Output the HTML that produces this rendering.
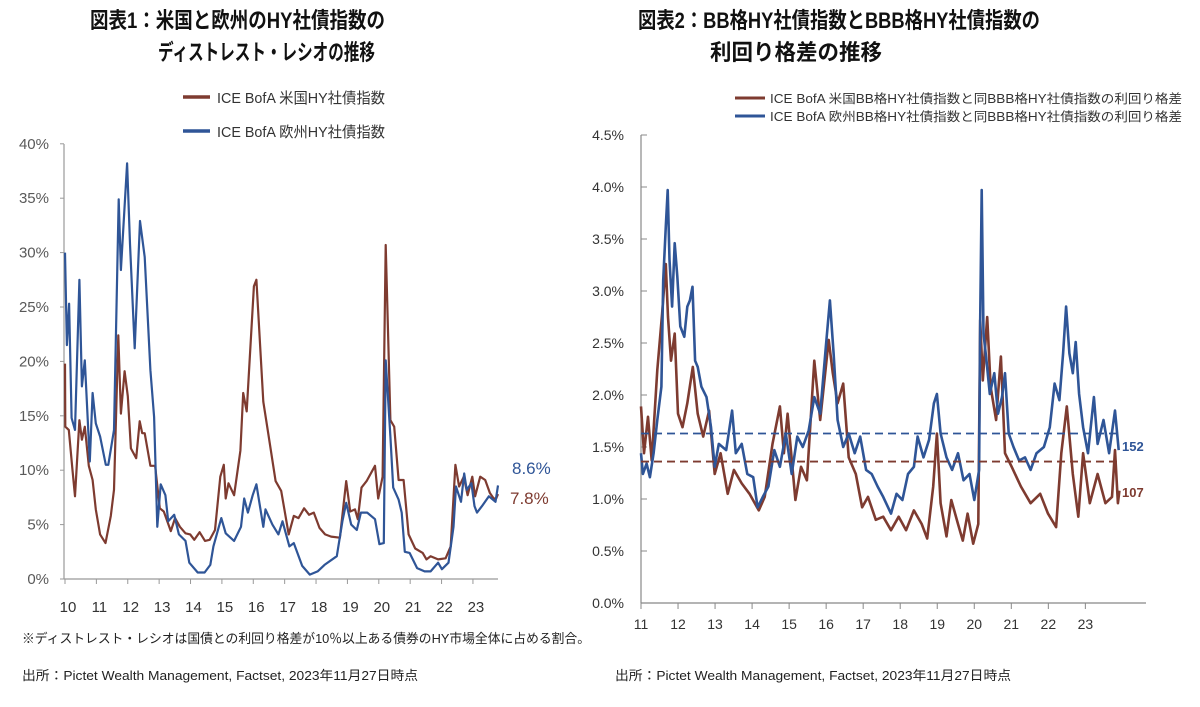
<!DOCTYPE html>
<html><head><meta charset="utf-8"><style>
body{margin:0;background:#fff;}
svg text{font-family:"Liberation Sans","Noto Sans CJK JP",sans-serif;}
</style></head><body>
<svg id="svg" width="1200" height="702" viewBox="0 0 1200 702" xmlns="http://www.w3.org/2000/svg">
<rect width="1200" height="702" fill="#fff"/>
<g font-weight="bold" font-size="22" fill="#111">
<text x="90" y="28" textLength="295" lengthAdjust="spacingAndGlyphs">図表1：米国と欧州のHY社債指数の</text>
<text x="158" y="60" textLength="217" lengthAdjust="spacingAndGlyphs">ディストレスト・レシオの推移</text>
</g>
<g font-size="15" fill="#333">
<line x1="183" y1="97" x2="210" y2="97" stroke="#7e3b30" stroke-width="3.5"/>
<text x="217" y="103" textLength="168" lengthAdjust="spacingAndGlyphs">ICE BofA 米国HY社債指数</text>
<line x1="183" y1="131" x2="210" y2="131" stroke="#2f5597" stroke-width="3.5"/>
<text x="217" y="137" textLength="168" lengthAdjust="spacingAndGlyphs">ICE BofA 欧州HY社債指数</text>
</g>
<g font-weight="bold" font-size="22" fill="#111">
<text x="638" y="28" textLength="402" lengthAdjust="spacingAndGlyphs">図表2：BB格HY社債指数とBBB格HY社債指数の</text>
<text x="710" y="60" textLength="172" lengthAdjust="spacingAndGlyphs">利回り格差の推移</text>
</g>
<g font-size="12.5" fill="#333">
<line x1="735" y1="98" x2="765" y2="98" stroke="#7e3b30" stroke-width="3"/>
<text x="770" y="103" textLength="412" lengthAdjust="spacingAndGlyphs">ICE BofA 米国BB格HY社債指数と同BBB格HY社債指数の利回り格差</text>
<line x1="735" y1="116" x2="765" y2="116" stroke="#2f5597" stroke-width="3"/>
<text x="770" y="121" textLength="412" lengthAdjust="spacingAndGlyphs">ICE BofA 欧州BB格HY社債指数と同BBB格HY社債指数の利回り格差</text>
</g>
<g id="c1"></g>
<g id="c2"></g>
<text x="22" y="643" font-size="13" fill="#222" textLength="568" lengthAdjust="spacingAndGlyphs">※ディストレスト・レシオは国債との利回り格差が10％以上ある債券のHY市場全体に占める割合。</text>
<text x="22" y="680" font-size="13" fill="#222" textLength="396" lengthAdjust="spacingAndGlyphs">出所：Pictet Wealth Management, Factset, 2023年11月27日時点</text>
<text x="615" y="680" font-size="13" fill="#222" textLength="396" lengthAdjust="spacingAndGlyphs">出所：Pictet Wealth Management, Factset, 2023年11月27日時点</text>
</svg>
<script>
// Chart 1 data
const c1YearLabels=["10","11","12","13","14","15","16","17","18","19","20","21","22","23"];
const c1YTicks=[0,5,10,15,20,25,30,35,40];
const euT=[10.0,10.06,10.13,10.21,10.32,10.46,10.54,10.63,10.79,10.88,10.98,11.12,11.30,11.38,11.56,11.71,11.78,11.98,12.07,12.22,12.39,12.54,12.72,12.84,12.94,13.05,13.20,13.29,13.48,13.63,13.84,13.96,14.23,14.45,14.63,14.73,14.98,15.12,15.39,15.61,15.71,15.83,15.98,16.10,16.32,16.39,16.61,16.80,16.93,17.15,17.29,17.56,17.80,18.05,18.27,18.66,18.84,18.96,19.12,19.30,19.43,19.63,19.88,20.02,20.16,20.22,20.37,20.46,20.63,20.73,20.83,20.98,21.22,21.46,21.65,21.89,22.01,22.22,22.38,22.46,22.62,22.72,22.80,22.95,23.05,23.13,23.29,23.51,23.72,23.80];
const euV=[30.0,21.5,25.3,14.8,13.7,27.5,17.7,20.1,10.8,17.1,14.3,13.1,10.5,10.5,13.7,34.9,28.4,38.2,30.8,21.2,32.9,29.6,19.2,14.9,4.8,8.7,7.7,5.3,5.9,4.1,3.5,1.5,0.6,0.6,1.3,3.0,5.6,4.2,3.5,4.8,7.4,6.1,7.7,8.7,4.8,6.4,5.0,4.1,5.3,3.0,3.3,1.2,0.4,0.7,1.3,2.1,5.3,7.0,5.0,4.5,6.1,6.1,5.5,3.2,3.3,20.1,13.1,8.4,7.3,6.1,2.5,2.4,1.0,0.7,0.7,1.5,0.9,1.5,4.8,8.5,7.1,9.7,8.2,8.8,6.7,6.1,6.7,7.6,7.1,8.6];
const usT=[10.0,10.01,10.12,10.24,10.32,10.46,10.54,10.63,10.76,10.88,10.98,11.12,11.29,11.46,11.56,11.70,11.78,11.90,12.00,12.10,12.27,12.38,12.46,12.54,12.72,12.87,13.02,13.15,13.37,13.51,13.66,13.84,13.99,14.12,14.29,14.46,14.61,14.78,14.95,15.06,15.12,15.21,15.39,15.59,15.68,15.79,16.02,16.10,16.32,16.46,16.71,16.89,17.13,17.29,17.44,17.62,17.78,17.93,18.11,18.29,18.48,18.76,18.96,19.09,19.24,19.33,19.45,19.61,19.88,19.98,20.12,20.22,20.37,20.49,20.63,20.79,20.95,21.16,21.40,21.52,21.65,21.89,22.13,22.29,22.44,22.56,22.71,22.83,22.98,23.07,23.23,23.39,23.54,23.66,23.74,23.80];
const usV=[19.8,14.0,13.7,10.0,7.6,14.6,12.8,14.0,10.4,9.1,6.4,4.1,3.3,5.8,8.2,22.4,15.2,19.1,16.8,12.0,11.1,14.5,13.4,13.4,10.4,10.4,6.5,6.2,4.4,5.6,4.8,4.2,4.1,3.6,4.3,3.5,3.6,4.5,9.4,10.5,7.4,8.8,7.7,11.8,17.1,15.4,26.9,27.5,16.3,13.7,9.0,8.1,4.1,5.8,5.6,6.5,5.9,6.1,4.7,4.1,3.9,3.8,9.0,6.2,6.4,5.5,8.4,9.0,10.4,7.4,9.4,30.7,14.6,14.0,9.1,9.1,4.1,2.8,2.4,1.8,2.1,1.8,1.9,3.0,10.5,8.5,9.4,7.7,9.4,7.6,9.4,9.1,7.9,7.4,7.4,7.8];
const c1EndLabels=["8.6%","7.8%"];
// Chart 2 data
const c2YearLabels=["11","12","13","14","15","16","17","18","19","20","21","22","23"];
const c2YTicks=[0,0.5,1,1.5,2,2.5,3,3.5,4,4.5];
const c2EuAvg=1.63, c2UsAvg=1.36;
const c2EndLabels=["152","107"];
const euT2=[11.0,11.05,11.15,11.24,11.34,11.44,11.55,11.60,11.67,11.72,11.77,11.84,11.91,11.98,12.06,12.17,12.25,12.32,12.39,12.46,12.53,12.63,12.77,12.89,12.99,13.10,13.30,13.46,13.56,13.72,13.87,14.03,14.15,14.29,14.44,14.60,14.75,14.91,15.07,15.22,15.37,15.53,15.68,15.84,15.99,16.10,16.20,16.31,16.46,16.61,16.77,16.92,17.08,17.23,17.39,17.54,17.75,17.90,18.06,18.21,18.37,18.47,18.63,18.78,18.91,18.99,19.09,19.25,19.40,19.56,19.71,19.87,20.00,20.13,20.16,20.20,20.25,20.33,20.42,20.54,20.64,20.75,20.83,20.93,21.06,21.21,21.37,21.52,21.68,21.88,22.04,22.17,22.30,22.40,22.48,22.57,22.66,22.74,22.83,22.94,23.07,23.23,23.33,23.49,23.64,23.80,23.90];
const euV2=[1.44,1.24,1.34,1.21,1.44,1.76,2.08,3.10,3.62,3.97,3.30,2.85,3.46,3.14,2.66,2.56,2.85,2.91,3.04,2.33,2.27,2.08,1.98,1.69,1.31,1.53,1.47,1.85,1.44,1.53,1.24,1.21,0.92,1.02,1.12,1.47,1.31,1.63,1.24,1.60,1.50,1.66,1.98,1.82,2.46,2.91,2.40,1.76,1.50,1.63,1.44,1.60,1.28,1.24,1.12,1.02,0.86,1.05,0.99,1.24,1.31,1.60,1.40,1.57,1.92,2.01,1.63,1.40,1.28,1.44,1.18,1.24,0.99,1.28,2.72,3.97,2.59,2.33,2.01,2.21,1.82,1.98,2.21,1.63,1.50,1.37,1.40,1.28,1.44,1.50,1.69,2.11,1.95,2.40,2.85,2.40,2.21,2.51,2.01,1.69,1.44,1.98,1.53,1.76,1.44,1.85,1.47];
const usT2=[11.0,11.08,11.19,11.29,11.44,11.57,11.67,11.73,11.81,11.91,12.00,12.12,12.25,12.40,12.53,12.68,12.84,12.99,13.15,13.34,13.51,13.72,13.93,14.18,14.34,14.55,14.75,14.86,14.96,15.17,15.32,15.48,15.68,15.84,16.07,16.18,16.31,16.46,16.61,16.80,16.97,17.13,17.34,17.54,17.75,17.96,18.16,18.37,18.58,18.73,18.89,18.99,19.09,19.25,19.38,19.56,19.69,19.82,19.97,20.11,20.16,20.23,20.35,20.44,20.59,20.72,20.83,21.01,21.26,21.52,21.78,21.99,22.21,22.35,22.50,22.66,22.81,22.94,23.12,23.33,23.54,23.72,23.80,23.88,23.92];
const usV2=[1.89,1.44,1.79,1.37,2.24,2.78,3.26,2.75,2.33,2.59,1.82,1.69,1.92,2.27,1.82,1.60,1.85,1.24,1.44,1.05,1.28,1.15,1.05,0.89,1.02,1.53,1.89,1.44,1.82,0.99,1.31,1.18,2.33,1.76,2.53,2.21,1.92,2.11,1.40,1.24,0.92,1.02,0.80,0.83,0.70,0.83,0.70,0.89,0.76,0.62,1.12,1.63,0.96,0.64,0.99,0.76,0.60,0.86,0.57,0.76,2.72,2.14,2.75,2.08,1.76,2.37,1.44,1.31,1.12,0.96,1.05,0.86,0.73,1.44,1.89,1.24,0.83,1.44,0.96,1.24,0.96,1.02,1.47,0.96,1.08];

const NS="http://www.w3.org/2000/svg";
function mk(parent,tag,attrs){const e=document.createElementNS(NS,tag);for(const k in attrs)e.setAttribute(k,attrs[k]);parent.appendChild(e);return e;}
const RED="#7e3b30",BLUE="#2f5597";

// chart 1 axes
const c1=document.getElementById('c1');
const x1=t=>65+(t-10)*31.38, y1=v=>579-v*10.88;
mk(c1,'line',{x1:64,y1:144,x2:64,y2:579,stroke:'#999','stroke-width':1.2});
mk(c1,'line',{x1:64,y1:579,x2:498,y2:579,stroke:'#999','stroke-width':1.2});
c1YTicks.forEach(v=>{
  const tk=mk(c1,'line',{x1:60,y1:y1(v),x2:64,y2:y1(v),stroke:'#999'});
  
  
  const t=mk(c1,'text',{x:49,y:y1(v)+5,'text-anchor':'end','font-size':15,fill:'#595959'});
  t.textContent=v+'%';
  
  
});
c1YearLabels.forEach((l,i)=>{
  const x=x1(10+i);
  mk(c1,'line',{x1:x,y1:579,x2:x,y2:584,stroke:'#999'});
  const t=mk(c1,'text',{x:x+3,y:612,'text-anchor':'middle','font-size':15,fill:'#333'});
  t.textContent=l;
  
  
});
function line(g,T,V,fx,fy,col,w,name){
  const p=mk(g,'polyline',{points:T.map((t,i)=>fx(t).toFixed(1)+','+fy(V[i]).toFixed(1)).join(' '),fill:'none',stroke:col,'stroke-width':w,'stroke-linejoin':'round'});
  
  
}
line(c1,usT,usV,x1,y1,RED,2.2,'us-hy-series');
line(c1,euT,euV,x1,y1,BLUE,2.2,'eu-hy-series');
let e1=mk(c1,'text',{x:512,y:474,'font-size':17,fill:BLUE});e1.textContent=c1EndLabels[0];


let e2=mk(c1,'text',{x:510,y:504,'font-size':17,fill:RED});e2.textContent=c1EndLabels[1];



// chart 2
const c2=document.getElementById('c2');
const x2=t=>641+(t-11)*37.03, y2=v=>603-v*104;
mk(c2,'line',{x1:641,y1:135,x2:641,y2:603,stroke:'#888','stroke-width':1.2});
mk(c2,'line',{x1:641,y1:603,x2:1146,y2:603,stroke:'#888','stroke-width':1.2});
c2YTicks.forEach(v=>{
  mk(c2,'line',{x1:641,y1:y2(v),x2:647,y2:y2(v),stroke:'#888'});
  const t=mk(c2,'text',{x:624,y:y2(v)+5,'text-anchor':'end','font-size':14,fill:'#333'});
  t.textContent=v.toFixed(1)+'%';
  
  
});
c2YearLabels.forEach((l,i)=>{
  const x=x2(11+i);
  mk(c2,'line',{x1:x,y1:603,x2:x,y2:609,stroke:'#888'});
  const t=mk(c2,'text',{x:x,y:629,'text-anchor':'middle','font-size':14,fill:'#333'});
  t.textContent=l;
  
  
});
line(c2,usT2,usV2,x2,y2,RED,2.6,'us-bb-bbb-spread-series');
line(c2,euT2,euV2,x2,y2,BLUE,2.6,'eu-bb-bbb-spread-series');
let d1=mk(c2,'line',{x1:641,y1:y2(c2EuAvg),x2:1119,y2:y2(c2EuAvg),stroke:BLUE,'stroke-width':1.8,'stroke-dasharray':'8,5'});


let d2=mk(c2,'line',{x1:641,y1:y2(c2UsAvg),x2:1119,y2:y2(c2UsAvg),stroke:RED,'stroke-width':1.8,'stroke-dasharray':'8,5'});


let l1=mk(c2,'text',{x:1122,y:451,'font-size':13,'font-weight':'bold',fill:BLUE});l1.textContent=c2EndLabels[0];


let l2=mk(c2,'text',{x:1122,y:497,'font-size':13,'font-weight':'bold',fill:RED});l2.textContent=c2EndLabels[1];


</script>
</body></html>
